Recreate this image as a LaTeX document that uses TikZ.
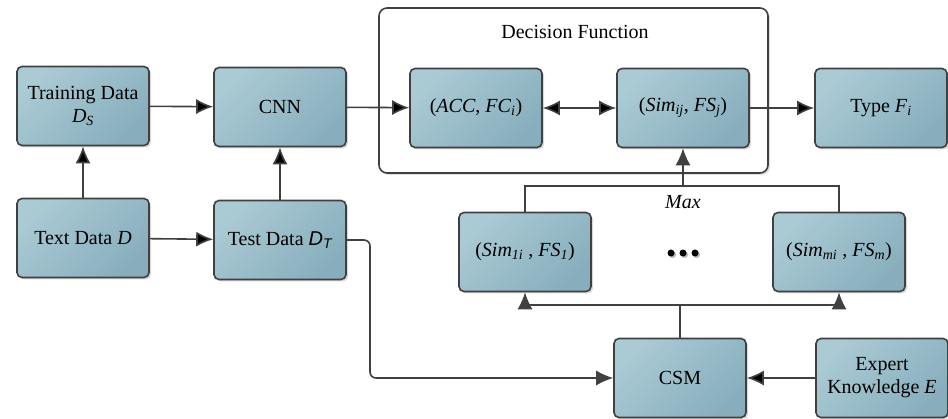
\documentclass[tikz,border=0pt]{standalone}
\usepackage{fontspec}
\setmainfont{LiberationSerif}[Extension=.ttf,UprightFont=*-Regular,ItalicFont=*-Italic,BoldFont=*-Bold,BoldItalicFont=*-BoldItalic]
\newfontfamily\arialfont{Liberation Sans}
\usetikzlibrary{arrows.meta,shadows}
\definecolor{boxlight}{RGB}{170,202,212}
\definecolor{boxdark}{RGB}{136,174,189}
\definecolor{linegray}{RGB}{64,64,64}
\tikzset{
  tip/.style={-{Latex[length=17pt,width=15pt]}},
  twotip/.style={{Latex[length=17pt,width=15pt]}-{Latex[length=17pt,width=15pt]}},
  box/.style={draw=linegray,line width=1.6pt,rounded corners=5pt,
    top color=boxlight,bottom color=boxdark,shading angle=45,
    drop shadow={shadow xshift=2pt,shadow yshift=-2pt,fill=black!25,opacity=.6},
    minimum width=132pt,minimum height=79pt,align=center,inner sep=2pt,
    font=\rmfamily\fontsize{20}{23}\selectfont},
  conn/.style={draw=linegray,line width=1.6pt},
}

\begin{document}
\begin{tikzpicture}[x=1pt,y=-1pt]
\useasboundingbox (0,0) rectangle (948,419);
 % frame
  \node (frame) at (573.5, 90.5) [draw=linegray,line width=1.6pt,rounded corners=8pt,
     minimum width=389pt,minimum height=165pt,fill=white,
     drop shadow={shadow xshift=2pt,shadow yshift=-2pt,fill=black!20,opacity=.6}] {};
  \node (dftitle) at (575, 32) [font=\rmfamily\fontsize{20}{23}\selectfont] {Decision Function};
 % nodes
  \node (train) at ( 83, 106) [box] {Training Data\\\textit{D}\textsubscript{\textit{S}}};
  \node (cnn)   at (280, 107) [box] {CNN};
  \node (text)  at ( 83, 238) [box] {Text Data \textit{D}};
  \node (test)  at (280, 240) [box] {Test Data {\arialfont\itshape D\textsubscript{T}}};
  \node (acc)   at (476, 108) [box] {(\textit{ACC}, \textit{FC}\textsubscript{\textit{i}})};
  \node (sim)   at (683, 108) [box] {(\textit{Sim}\textsubscript{\textit{ij}}, \textit{FS}\textsubscript{\textit{j}})};
  \node (type)  at (881, 108) [box] {Type \textit{F}\textsubscript{\textit{i}}};
  \node (sim1)  at (525, 252) [box] {(\textit{Sim}\textsubscript{\textit{1i}} , \textit{FS}\textsubscript{\textit{1}})};
  \node (simm)  at (839, 252) [box] {(\textit{Sim}\textsubscript{\textit{mi}} , \textit{FS}\textsubscript{\textit{m}})};
  \node (csm)   at (680, 378) [box] {CSM};
  \node (expert) at (882, 378) [box] {Expert\\Knowledge \textit{E}};
  \node (maxlbl) at (683, 202) [font=\rmfamily\fontsize{20}{23}\selectfont] {\textit{Max}};
  \node (dots)  at (683, 253) [minimum size=30pt] {};
  \foreach \dx in {-12,0,12} {
    \fill[black!30] ([xshift=\dx pt+1.5pt,yshift=-1.5pt]dots.center) circle (3.5pt);
    \fill[black] ([xshift=\dx pt]dots.center) circle (3.5pt);
  }
  \coordinate (bend)  at (370, 240);
  \coordinate (split) at (680, 305);
  \coordinate (maxtop) at (683, 186);
 % arrows
  \path[conn,tip] (train) edge (cnn);
  \path[conn,tip] (text) edge (train);
  \path[conn,tip] (text) edge (test);
  \path[conn,tip] (test) edge (cnn);
  \path[conn,tip] (cnn) edge (acc);
  \path[conn,twotip] (acc) edge (sim);
  \path[conn,tip] (sim) edge (type);
  \path[conn,tip] (expert) edge (csm);
  \draw[conn,tip,rounded corners=6pt] (test.east) -- (bend) |- (csm.west);
  \draw[conn] (csm.north) -- (split);
  \draw[conn,tip,rounded corners=6pt] (split) -| (sim1.south);
  \draw[conn,tip,rounded corners=6pt] (split) -| (simm.south);
  \draw[conn,line width=1.2pt] (sim1.north) |- (maxtop) -| (simm.north);
  \draw[conn,tip] (maxtop) -- (sim.south);
\end{tikzpicture}
\end{document}
